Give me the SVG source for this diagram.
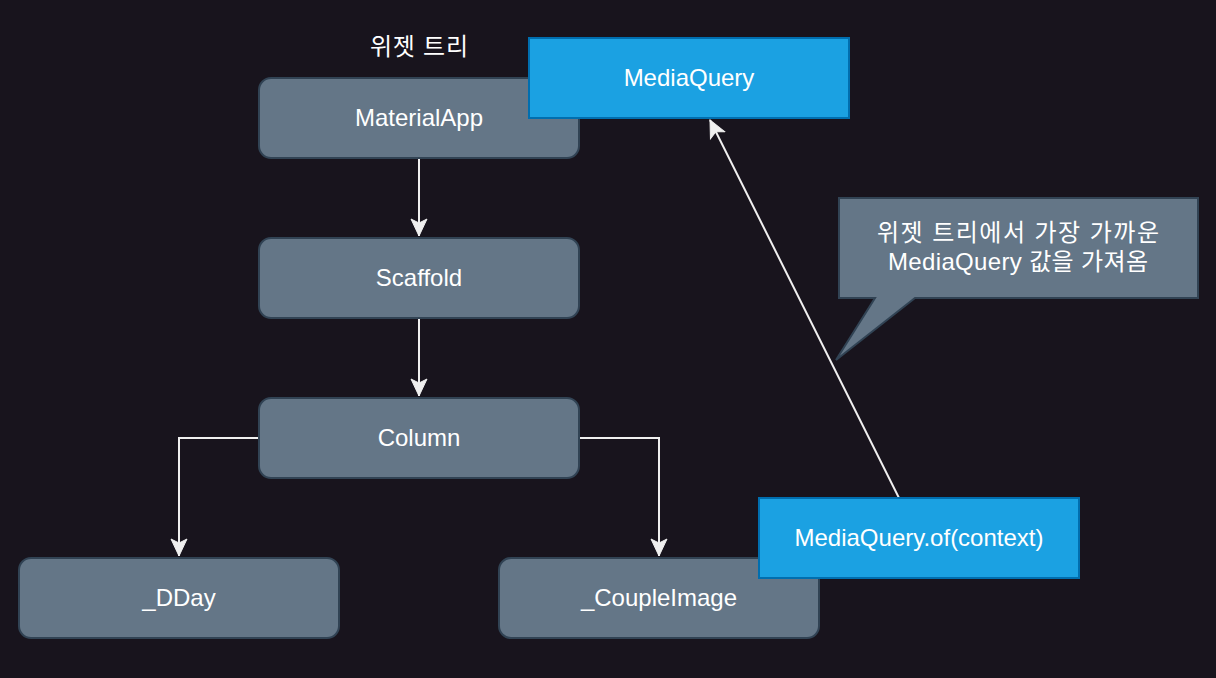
<svg xmlns="http://www.w3.org/2000/svg" width="1216" height="678" viewBox="0 0 1216 678">
<defs>
<style>
.node{fill:#647687;stroke:#314354;stroke-width:2}
.blue{fill:#1BA1E2;stroke:#006EAF;stroke-width:2}
.lbl{font-family:"Liberation Sans","Noto Sans CJK KR",sans-serif;font-size:24px;fill:#ffffff;text-anchor:middle}
.edge{fill:none;stroke:#F0F0F0;stroke-width:2}
</style>
<marker id="arr" markerUnits="userSpaceOnUse" markerWidth="20" markerHeight="20" viewBox="-18 -10 20 20" refX="0" refY="0" orient="auto">
<path d="M0,0 L-17,-8 L-13,0 L-17,8 Z" fill="#F0F0F0" stroke="#F0F0F0" stroke-width="1"/>
</marker>
</defs>
<rect width="1216" height="678" fill="#18141D"/>
<text class="lbl" x="419" y="55" textLength="98" lengthAdjust="spacing">위젯 트리</text>
<g id="connectors">
<path class="edge" d="M419,158 L419,236" marker-end="url(#arr)"/>
<path class="edge" d="M419,318 L419,396" marker-end="url(#arr)"/>
<path class="edge" d="M259,438 L179,438 L179,556" marker-end="url(#arr)"/>
<path class="edge" d="M579,438 L659,438 L659,556" marker-end="url(#arr)"/>
<path class="edge" d="M899,498 L710,120" marker-end="url(#arr)"/>
</g>
<g id="materialapp"><rect class="node" x="259" y="78" width="320" height="80" rx="12"/><text class="lbl" x="419" y="126">MaterialApp</text></g>
<g id="scaffold"><rect class="node" x="259" y="238" width="320" height="80" rx="12"/><text class="lbl" x="419" y="286">Scaffold</text></g>
<g id="column"><rect class="node" x="259" y="398" width="320" height="80" rx="12"/><text class="lbl" x="419" y="446">Column</text></g>
<g id="dday"><rect class="node" x="19" y="558" width="320" height="80" rx="12"/><text class="lbl" x="179" y="606">_DDay</text></g>
<g id="coupleimage"><rect class="node" x="499" y="558" width="320" height="80" rx="12"/><text class="lbl" x="659" y="606">_CoupleImage</text></g>
<g id="mediaquery"><rect class="blue" x="529" y="38" width="320" height="80"/><text class="lbl" x="689" y="86">MediaQuery</text></g>
<g id="mediaqueryof"><rect class="blue" x="759" y="498" width="320" height="80"/><text class="lbl" x="919" y="546">MediaQuery.of(context)</text></g>
<g id="callout">
<path class="node" d="M839,198 L1198,198 L1198,298 L915,298 L836,360 L875,298 L839,298 Z"/>
<text class="lbl" x="1018" y="241" textLength="282" lengthAdjust="spacing">위젯 트리에서 가장 가까운</text>
<text class="lbl" x="1018" y="270" textLength="260" lengthAdjust="spacing">MediaQuery 값을 가져옴</text>
</g>
</svg>
